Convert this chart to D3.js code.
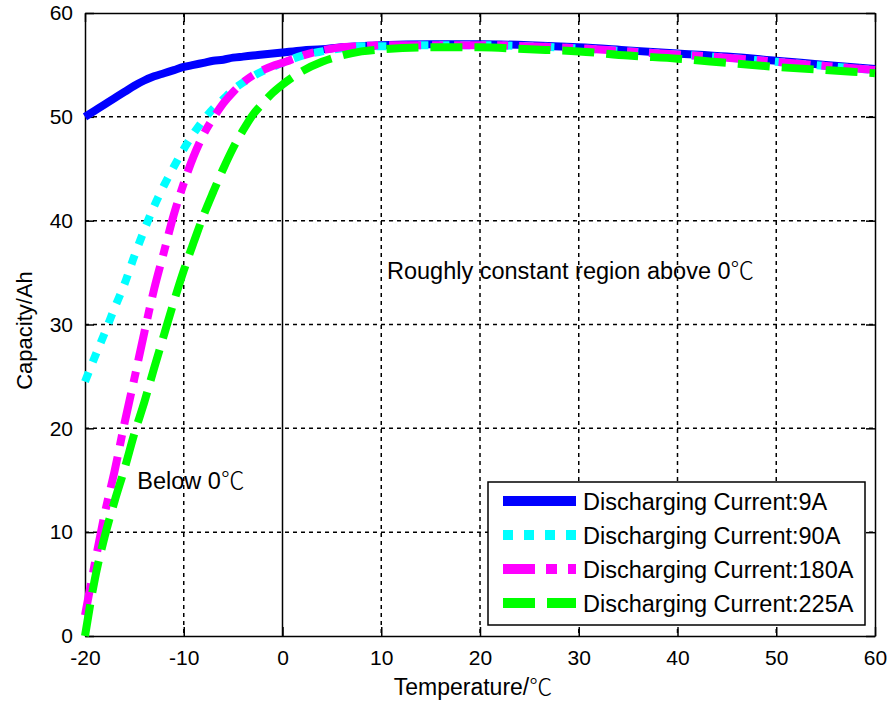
<!DOCTYPE html>
<html>
<head>
<meta charset="utf-8">
<script src="https://cdn.jsdelivr.net/npm/d3@7"></script>
<style>
  html, body { margin: 0; padding: 0; background: #fff; }
  svg text { font-family: "Liberation Sans", Arial, "Noto Sans CJK SC", sans-serif; fill: #000; }
  svg tspan.deg { font-family: "Noto Sans CJK SC", "Noto Sans CJK JP", sans-serif; font-weight: 300; }
</style>
</head>
<body>
<svg id="chart" width="889" height="704"></svg>
<script>
// Temperature samples (°C)
const temps = [-20,-19,-18,-17,-16,-15,-14,-13,-12,-11,-10,-9,-8,-7,-6,-5,-4,-3,-2,-1,0,2,4,6,8,10,15,20,25,30,35,40,45,50,55,60];

// Capacity (Ah) for each discharging current
const cap9A   = [50.0,50.6,51.2,51.8,52.4,53.0,53.5,53.9,54.2,54.5,54.8,55.0,55.2,55.4,55.5,55.7,55.8,55.9,56.0,56.1,56.2,56.4,56.5,56.7,56.8,56.9,57.0,57.0,56.9,56.7,56.4,56.1,55.8,55.4,55.0,54.6];
const cap90A  = [24.5,26.9,29.2,31.6,33.9,36.6,39.1,41.4,43.4,45.2,46.9,48.4,49.7,50.8,51.7,52.6,53.3,53.9,54.4,54.8,55.2,55.9,56.3,56.6,56.8,56.8,56.9,56.9,56.8,56.6,56.3,56.0,55.7,55.3,54.9,54.5];
const cap180A = [2.0,7.0,11.8,15.9,20.5,24.8,29.2,33.4,37.0,40.6,43.6,46.2,48.3,49.9,51.3,52.4,53.3,54.0,54.5,54.9,55.2,55.9,56.4,56.7,56.8,56.9,56.9,56.9,56.8,56.6,56.3,56.0,55.7,55.3,54.9,54.5];
const cap225A = [0.0,5.5,9.6,13.0,16.1,19.5,22.5,25.8,29.0,32.2,35.2,37.9,40.5,42.8,45.0,47.0,48.7,50.2,51.3,52.3,53.1,54.4,55.3,55.9,56.3,56.5,56.7,56.7,56.5,56.3,55.9,55.6,55.2,54.8,54.5,54.2];

const seriesNames = ["Discharging Current:9A","Discharging Current:90A","Discharging Current:180A","Discharging Current:225A"];
const seriesValues = [cap9A, cap90A, cap180A, cap225A];

const xTicks = [-20,-10,0,10,20,30,40,50,60];
const yTicks = [0,10,20,30,40,50,60];

const annotations = [
  {text: "Roughly constant region above 0", t: 10.58, c: 34.4},
  {text: "Below 0", t: -14.7, c: 14.2}
];
const DEG = "\u2103";

// Styling per series
const styles = [
  {color: "#0000ff", dash: null},
  {color: "#00ffff", dash: "10,11"},
  {color: "#ff00ff", dash: "32,11,11,11"},
  {color: "#00ff00", dash: "32,12"}
];

const svg = d3.select("#chart");
const L = 85, R = 875, T = 13, B = 636;

const x = d3.scaleLinear().domain([-20, 60]).range([L, R]);
const y = d3.scaleLinear().domain([0, 60]).range([B, T]);

// Grid
const grid = svg.append("g");
grid.selectAll("line.vg").data(xTicks.slice(1, -1).filter(d => d !== 0)).enter().append("line")
  .attr("x1", d => x(d)).attr("x2", d => x(d)).attr("y1", T).attr("y2", B)
  .attr("stroke", "#000").attr("stroke-width", 1.5).attr("stroke-dasharray", "4,4");
grid.selectAll("line.hg").data(yTicks.slice(1, -1)).enter().append("line")
  .attr("x1", L).attr("x2", R).attr("y1", d => y(d)).attr("y2", d => y(d))
  .attr("stroke", "#000").attr("stroke-width", 1.5).attr("stroke-dasharray", "4,4");

// 0 °C divider
svg.append("line")
  .attr("x1", x(0)).attr("x2", x(0)).attr("y1", T).attr("y2", B)
  .attr("stroke", "#000").attr("stroke-width", 1.5);

// Axes with inward ticks on all four sides
const tickFont = 21;
const fmt = d => String(d);
const axB = svg.append("g").attr("transform", `translate(0,${B})`)
  .call(d3.axisBottom(x).tickValues(xTicks).tickFormat(fmt).tickSizeInner(-9).tickSizeOuter(0).tickPadding(14));
const axL = svg.append("g").attr("transform", `translate(${L},0)`)
  .call(d3.axisLeft(y).tickValues(yTicks).tickFormat(fmt).tickSizeInner(-9).tickSizeOuter(0).tickPadding(12));
const axT = svg.append("g").attr("transform", `translate(0,${T})`)
  .call(d3.axisTop(x).tickValues(xTicks).tickSizeInner(-9).tickSizeOuter(0).tickFormat(""));
const axR = svg.append("g").attr("transform", `translate(${R},0)`)
  .call(d3.axisRight(y).tickValues(yTicks).tickSizeInner(-9).tickSizeOuter(0).tickFormat(""));
[axB, axL, axT, axR].forEach(g => {
  g.select(".domain").attr("stroke", "#000").attr("stroke-width", 1.5);
  g.selectAll(".tick line").attr("stroke", "#000").attr("stroke-width", 1.5);
  g.selectAll(".tick text").attr("font-size", tickFont).attr("font-family", null);
});

// Curves
const line = d3.line().x(d => x(d[0])).y(d => y(d[1])).curve(d3.curveMonotoneX);
seriesValues.forEach((vals, i) => {
  const pts = temps.map((t, k) => [t, vals[k]]);
  svg.append("path").datum(pts)
    .attr("d", line)
    .attr("fill", "none")
    .attr("stroke", styles[i].color)
    .attr("stroke-width", 8)
    .attr("stroke-dasharray", styles[i].dash);
});

// Text with a trailing degree-Celsius sign
function withDeg(sel, str) {
  sel.append("tspan").text(str);
  sel.append("tspan").attr("class", "deg").text(DEG);
}

// Annotations
svg.selectAll("text.note").data(annotations).enter().append("text")
  .attr("class", "note")
  .attr("x", d => x(d.t)).attr("y", d => y(d.c))
  .attr("font-size", 23.5)
  .each(function(d) { withDeg(d3.select(this), d.text); });

// Axis titles
const xTitle = svg.append("text")
  .attr("x", 473).attr("y", 695)
  .attr("text-anchor", "middle").attr("font-size", 23);
withDeg(xTitle, "Temperature/");
svg.append("text")
  .attr("transform", `translate(32,${(T + B) / 2 + 6}) rotate(-90)`)
  .attr("text-anchor", "middle").attr("font-size", 22)
  .text("Capacity/Ah");

// Legend
const lg = svg.append("g").attr("transform", "translate(488,482)");
lg.append("rect").attr("width", 377).attr("height", 143)
  .attr("fill", "#fff").attr("stroke", "#000").attr("stroke-width", 1.5);
seriesNames.forEach((name, i) => {
  const cy = 19 + i * 34;
  lg.append("line")
    .attr("x1", 15).attr("x2", 88).attr("y1", cy).attr("y2", cy)
    .attr("stroke", styles[i].color).attr("stroke-width", 10)
    .attr("stroke-dasharray", styles[i].dash);
  lg.append("text")
    .attr("x", 95).attr("y", cy + 9)
    .attr("font-size", 23.5)
    .text(name);
});
</script>
</body>
</html>
